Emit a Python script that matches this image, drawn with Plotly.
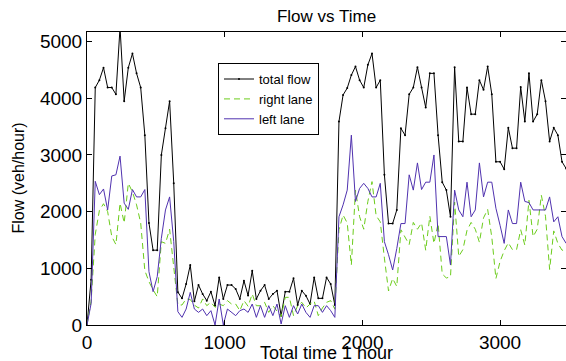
import plotly.graph_objects as go

time_s = [i * 30 for i in range(117)]

total_flow = [
    0, 800, 4190, 4320, 4540, 4190, 4190, 4070, 5250, 3950,
    4540, 4790, 4440, 4190, 3350, 1800, 1320, 1320, 3000, 3470,
    3950, 2500, 580, 470, 723, 1058, 420, 705, 547, 430,
    588, 341, 840, 460, 705, 705, 635, 460, 780, 520,
    958, 459, 605, 705, 459, 547, 605, 165, 588, 588,
    823, 353, 605, 517, 370, 840, 470, 470, 840, 723,
    353, 3590, 4060, 4180, 4410, 4560, 4320, 4190, 4590, 4790,
    4190, 4320, 2650, 1790, 1790, 2030, 3470, 3350, 4070, 4190,
    4550, 4190, 3840, 4440, 4440, 3350, 2520, 2380, 1910, 4550,
    3240, 3240, 4190, 3720, 3720, 4320, 4150, 4560, 4070, 2880,
    2880, 2750, 3480, 3120, 3120, 4200, 3590, 4440, 3590, 3720,
    4320, 3950, 3240, 3480, 3350, 2880, 2760,
]

right_lane = [
    0, 420, 1600, 2020, 2140, 2000, 1560, 1420, 2150, 1800,
    2500, 2350, 2120, 1800, 960, 765, 620, 500, 1470, 1440,
    1690, 1060, 353, 353, 460, 450, 350, 300, 460, 341,
    400, 312, 370, 341, 430, 370, 370, 253, 430, 330,
    547, 340, 340, 400, 223, 340, 253, 150, 488, 488,
    165, 340, 400, 300, 370, 420, 165, 300, 400, 430,
    280, 1680, 1940, 1800, 1060, 2380, 1910, 1690, 2180, 2530,
    1930, 1820, 1180, 600, 820, 680, 1680, 1560, 1420, 1810,
    1690, 1800, 1320, 1920, 1440, 1790, 900, 830, 850, 2170,
    1210, 1330, 1670, 1810, 1690, 1460, 1890, 2040, 1550, 820,
    1120, 1310, 1450, 1330, 1330, 1680, 1410, 2200, 1560, 1690,
    2290, 1920, 980, 1660, 1440, 1320, 1320,
]

left_lane = [
    0, 380, 2535, 2300, 2400, 2030, 2630, 2650, 2980, 2150,
    2040, 2390, 2260, 2260, 2390, 941, 588, 853, 1530, 2030,
    2260, 1470, 235, 135, 282, 576, 282, 223, 282, 165,
    253, 0, 459, 0, 282, 223, 165, 253, 282, 223,
    370, 135, 341, 135, 341, 165, 370, 18, 341, 135,
    341, 194, 370, 223, 135, 341, 341, 223, 341, 253,
    135, 1910, 2120, 2380, 3350, 2180, 2410, 2500, 2410, 2260,
    2260, 2500, 1470, 1240, 970, 1350, 1790, 1790, 2650, 2380,
    2860, 2390, 2520, 2520, 3000, 1560, 1560, 1560, 1060, 2380,
    2030, 1910, 2520, 1910, 2030, 2860, 2260, 2520, 2520, 2060,
    1760, 1440, 2030, 1790, 1790, 2520, 2180, 2160, 2030, 2030,
    2030, 2030, 2260, 1820, 1910, 1560, 1440,
]

x_ticks = [0, 1000, 2000, 3000]
y_ticks = [0, 1000, 2000, 3000, 4000, 5000]

FONT = "Liberation Sans, Arial, Helvetica, sans-serif"

fig = go.Figure()
fig.add_trace(go.Scatter(x=time_s, y=total_flow, name="total flow",
                         mode="lines+markers",
                         line=dict(color="black", width=1),
                         marker=dict(color="black", size=2)))
fig.add_trace(go.Scatter(x=time_s, y=right_lane, name="right lane",
                         mode="lines",
                         line=dict(color="#6ccc1c", width=1, dash="6px,4px")))
fig.add_trace(go.Scatter(x=time_s, y=left_lane, name="left lane",
                         mode="lines",
                         line=dict(color="rgb(80,50,175)", width=1)))

axis_common = dict(showgrid=False, zeroline=False, showline=True,
                   linecolor="black", linewidth=1, mirror="ticks",
                   ticks="inside", ticklen=5, tickcolor="black",
                   tickfont=dict(family=FONT, size=19, color="black"))

fig.update_layout(
    width=566, height=361,
    margin=dict(l=87, r=0, t=32, b=36),
    paper_bgcolor="white", plot_bgcolor="white",
    font=dict(family=FONT, color="black"),
    title=dict(text="Flow vs Time", x=0.5, xref="paper",
               y=1 - 16 / 361, yref="container", yanchor="middle",
               font=dict(family=FONT, size=17, color="black")),
    xaxis=dict(range=[0, 3479], tickvals=x_ticks, **axis_common),
    yaxis=dict(range=[0, 5170], tickvals=y_ticks, **axis_common),
    showlegend=True,
    legend=dict(x=0.2735, y=0.894, xanchor="left", yanchor="top",
                bgcolor="white", bordercolor="black", borderwidth=1,
                font=dict(family=FONT, size=13, color="black"),
                itemwidth=30, tracegroupgap=0),
    annotations=[
        dict(text="Total time 1 hour", xref="paper", yref="paper",
             x=0.5, y=(325 - 353) / 293, xanchor="center", yanchor="middle",
             showarrow=False, font=dict(family=FONT, size=18, color="black")),
        dict(text="Flow (veh/hour)", xref="paper", yref="paper",
             x=(18 - 87) / 479, y=0.5, xanchor="center", yanchor="middle",
             textangle=-90, showarrow=False,
             font=dict(family=FONT, size=16, color="black")),
    ],
)

fig.write_html("out.html",
               config={"displayModeBar": False},
               post_script="document.body.style.margin='0px';document.body.style.overflow='hidden';")
